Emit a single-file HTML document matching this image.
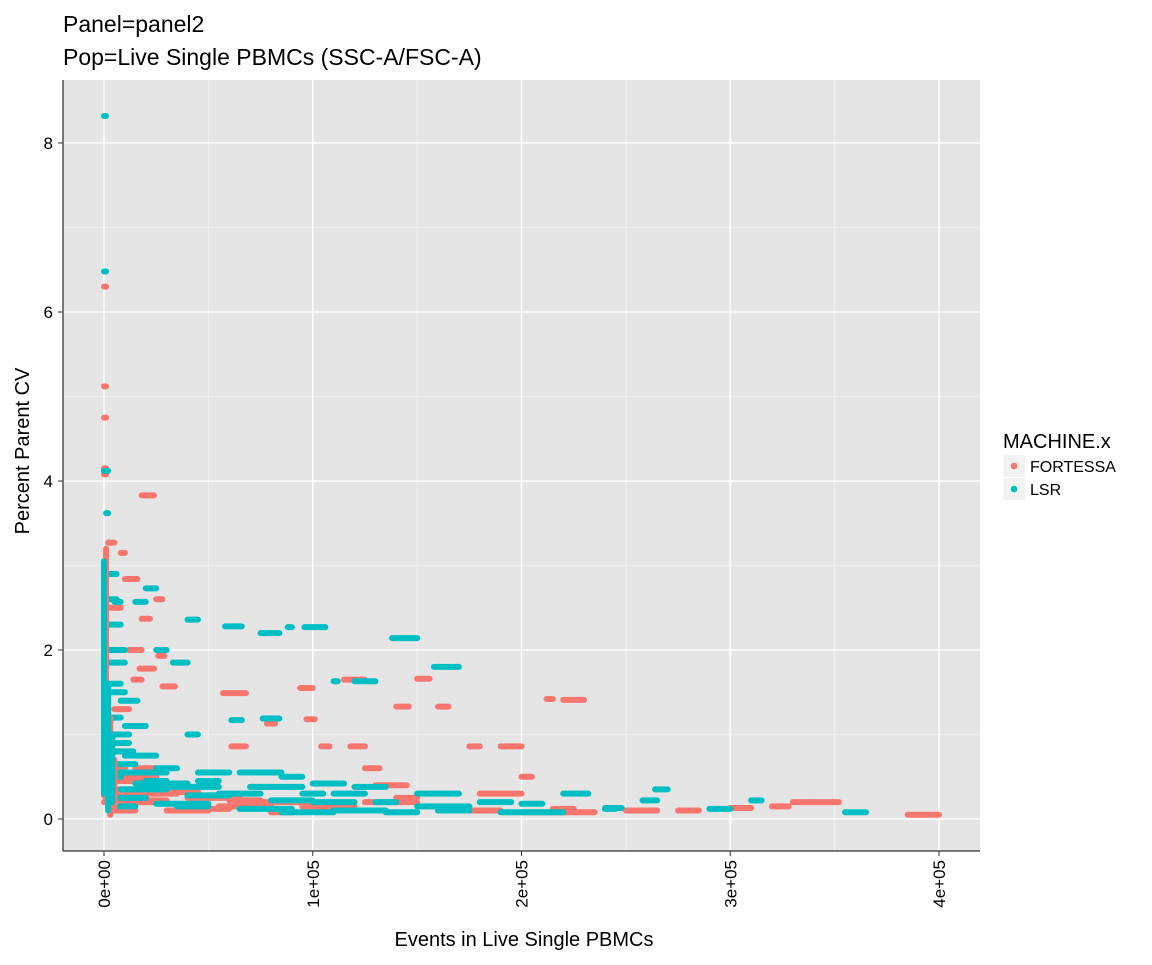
<!DOCTYPE html>
<html><head><meta charset="utf-8"><style>
body{margin:0;background:#fff;font-family:"Liberation Sans",Arial,sans-serif}
svg text{font-family:"Liberation Sans",Arial,sans-serif}
</style></head><body>
<svg id="chart" width="1152" height="960" xmlns="http://www.w3.org/2000/svg">
<rect width="1152" height="960" fill="#fff"/>
<text x="63" y="32" font-size="23">Panel=panel2</text>
<text x="63" y="65" font-size="23">Pop=Live Single PBMCs (SSC-A/FSC-A)</text>
<rect x="63" y="80" width="917" height="771" fill="#e5e5e5"/>
<g id="grid"></g>
<g id="marks"></g>
<line x1="63" y1="80" x2="63" y2="851" stroke="#000" stroke-width="1"/>
<line x1="63" y1="851" x2="980" y2="851" stroke="#000" stroke-width="1"/>
<g id="axes"></g>
<text x="524" y="946" font-size="20" text-anchor="middle">Events in Live Single PBMCs</text>
<text transform="translate(29,451) rotate(-90)" font-size="20" text-anchor="middle">Percent Parent CV</text>
<g>
<text x="1003" y="448" font-size="20">MACHINE.x</text>
<rect x="1003" y="455" width="22" height="22" fill="#f2f2f2"/>
<circle cx="1014" cy="466" r="3.3" fill="#F8766D"/>
<text x="1030" y="472" font-size="16">FORTESSA</text>
<rect x="1003" y="478" width="22" height="22" fill="#f2f2f2"/>
<circle cx="1014" cy="489" r="3.3" fill="#00BFC4"/>
<text x="1030" y="495" font-size="16">LSR</text>
</g>
</svg>
<script>
const xTicks=[0,100,200,300,400];
const xTickLabels=["0e+00","1e+05","2e+05","3e+05","4e+05"];
const yTicks=[0,2,4,6,8];
const yTickLabels=["0","2","4","6","8"];
// horizontal runs: [xStart(thousands), xEnd(thousands), y]
const lsrStreaks=[[0,1,8.32],[0,1,6.48],[0,2,4.12],[1,2,3.62],[40,45,2.36],[58,66,2.28],[75,84,2.2],[88,90,2.27],[96,106,2.27],[138,150,2.14],[110,112,1.63],[120,130,1.63],[158,170,1.8],[5,8,2.57],[20,25,2.73],[15,20,2.57],[25,30,2.0],[33,40,1.85],[61,66,1.17],[76,84,1.19],[40,45,1.0],[264,270,0.35],[258,265,0.22],[310,315,0.22],[355,365,0.08],[220,232,0.3],[240,245,0.12],[2,8,1.6],[3,8,1.2],[5,12,0.9],[10,25,0.75],[25,35,0.6],[45,60,0.55],[65,85,0.55],[85,95,0.5],[100,115,0.42],[120,135,0.38],[150,170,0.3],[180,195,0.2],[200,210,0.18],[240,248,0.13],[290,300,0.12],[8,30,0.35],[40,60,0.28],[80,100,0.22],[110,135,0.1],[150,175,0.15],[190,220,0.08],[2,15,0.15],[25,50,0.18],[65,90,0.12],[45,55,0.45],[95,105,0.3],[130,140,0.2],[160,175,0.1],[0,8,0.5],[2,6,2.9],[2,8,2.3],[3,10,1.85],[8,16,1.4],[110,125,0.3],[135,150,0.08],[20,30,0.45],
[0,15,0.65],[5,30,0.55],[15,40,0.42],[30,55,0.38],[0,12,1.0],[2,10,1.5],[5,20,0.25],[35,50,0.15],[55,75,0.3],[70,95,0.38],[100,120,0.2],[85,110,0.08],[0,10,2.0],[0,6,2.6],[10,20,1.1],[4,14,0.8]];
const fortStreaks=[[0,1,6.3],[0,1,5.12],[0,1,4.75],[0,1,4.15],[0,1,4.08],[18,24,3.83],[2,5,3.27],[8,10,3.15],[10,16,2.84],[25,28,2.6],[18,22,2.37],[12,18,2.0],[17,24,1.78],[28,34,1.57],[26,29,1.93],[14,18,1.65],[57,68,1.49],[94,100,1.55],[97,101,1.18],[78,82,1.13],[61,68,0.86],[140,146,1.33],[150,156,1.66],[160,165,1.33],[115,125,1.65],[190,200,0.86],[175,180,0.86],[104,108,0.86],[118,125,0.86],[125,132,0.6],[220,230,1.41],[212,215,1.42],[200,205,0.5],[340,352,0.2],[385,400,0.05],[330,340,0.2],[275,285,0.1],[320,328,0.15],[0,10,0.6],[2,20,0.45],[10,35,0.3],[40,65,0.25],[70,95,0.2],[95,120,0.15],[125,150,0.2],[160,190,0.1],[200,235,0.08],[250,265,0.1],[300,310,0.13],[0,25,0.2],[45,60,0.12],[100,120,0.1],[140,150,0.25],[180,200,0.3],[215,225,0.12],[2,10,1.0],[1,6,2.0],[2,8,2.5],[5,12,1.3],[20,30,0.4],[70,80,0.38],[130,145,0.4],[5,15,0.1],[80,90,0.08],
[0,20,0.35],[5,25,0.5],[10,30,0.22],[20,45,0.32],[0,8,0.8],[30,50,0.1],[55,80,0.15],[60,75,0.22],[0,12,0.28],[15,25,0.6]];
// vertical runs of points near x=0: [x(thousands), yStart, yEnd]
const lsrColumn=[[0,0.3,3.05],[2,0.1,1.6],[4,0.2,1.0]];
const fortColumn=[[1,0.2,3.2],[3,0.05,1.2],[5,0.1,0.7]];
const xs=v=>104+v*2.0875, ys=v=>819-v*84.5;
const NS="http://www.w3.org/2000/svg";
const grid=document.getElementById('grid'), marks=document.getElementById('marks'), axes=document.getElementById('axes');
function mk(tag,attrs,parent){const e=document.createElementNS(NS,tag);for(const k in attrs)e.setAttribute(k,attrs[k]);parent.appendChild(e);return e;}
[50,150,250,350].forEach(v=>{const l=mk('line',{x1:xs(v),x2:xs(v),y1:80,y2:851,stroke:'#f2f2f2','stroke-width':0.8},grid);

});
[1,3,5,7].forEach(v=>{const l=mk('line',{x1:63,x2:980,y1:ys(v),y2:ys(v),stroke:'#f2f2f2','stroke-width':0.8},grid);

});
xTicks.forEach((v,i)=>{const l=mk('line',{x1:xs(v),x2:xs(v),y1:80,y2:851,stroke:'#fff','stroke-width':1.5},grid);


mk('line',{x1:xs(v),x2:xs(v),y1:851,y2:856,stroke:'#333'},axes);
const t=mk('text',{transform:`translate(${xs(v)+6},860) rotate(-90)`,'font-size':17,'text-anchor':'end',fill:'#000'},axes);
t.textContent=xTickLabels[i];

});
yTicks.forEach((v,i)=>{const l=mk('line',{x1:63,x2:980,y1:ys(v),y2:ys(v),stroke:'#fff','stroke-width':1.5},grid);


mk('line',{x1:58,x2:63,y1:ys(v),y2:ys(v),stroke:'#333'},axes);
const t=mk('text',{x:53,y:ys(v)+6,'font-size':17,'text-anchor':'end',fill:'#000'},axes);
t.textContent=yTickLabels[i];

});
function draw(arr,color,name){arr.forEach(s=>{const l=mk('line',{x1:xs(s[0]),x2:xs(s[1]),y1:ys(s[2]),y2:ys(s[2]),stroke:color,'stroke-width':6,'stroke-linecap':'round'},marks);

});}
function cols(arr,color,name){arr.forEach(s=>{const l=mk('line',{x1:xs(s[0]),x2:xs(s[0]),y1:ys(s[1]),y2:ys(s[2]),stroke:color,'stroke-width':6,'stroke-linecap':'round'},marks);

});}
draw(fortStreaks,'#F8766D','fortessa-point-run');
draw(lsrStreaks,'#00BFC4','lsr-point-run');
cols(fortColumn,'#F8766D','fortessa-column-run');
cols(lsrColumn,'#00BFC4','lsr-column-run');
</script>
</body></html>
